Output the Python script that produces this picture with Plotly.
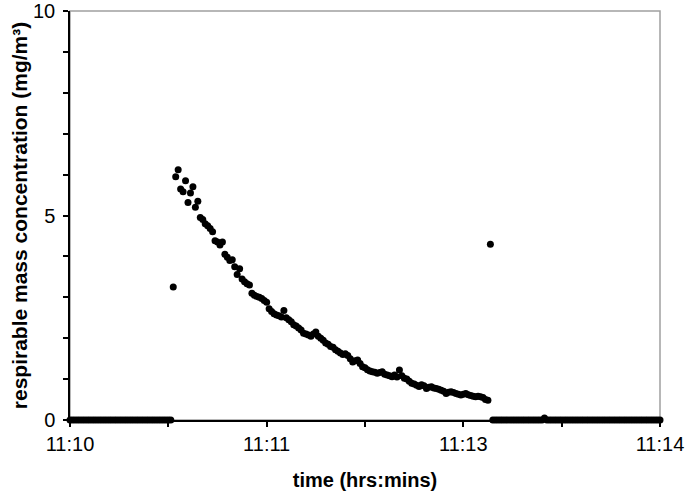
import plotly.graph_objects as go

# seconds after 11:10:00, one reading per second
seconds = list(range(0, 241))

# instrument reads zero until the release
before_release = [0.0] * 42
release_spike = [3.25]
# decay of the cloud, t = 43 .. 170 s
decay = [
    5.95, 6.12, 5.65, 5.58, 5.85, 5.32, 5.55, 5.70, 5.20, 5.35,
    4.95, 4.90, 4.80, 4.75, 4.68, 4.60, 4.38, 4.35, 4.28, 4.35,
    4.05, 3.98, 3.90, 3.92, 3.75, 3.56, 3.70, 3.45, 3.38, 3.33,
    3.30, 3.10, 3.05, 3.02, 3.00, 2.97, 2.92, 2.88, 2.72, 2.65,
    2.60, 2.57, 2.55, 2.52, 2.68, 2.50, 2.45, 2.40, 2.33, 2.30,
    2.25, 2.20, 2.12, 2.10, 2.08, 2.05, 2.10, 2.15, 2.05, 2.00,
    1.95, 1.88, 1.85, 1.80, 1.78, 1.72, 1.68, 1.64, 1.60, 1.62,
    1.58, 1.50, 1.42, 1.45, 1.47, 1.38, 1.30, 1.28, 1.23, 1.20,
    1.18, 1.17, 1.14, 1.16, 1.18, 1.12, 1.10, 1.08, 1.06, 1.10,
    1.05, 1.22, 1.08, 1.02, 1.00, 0.95, 0.90, 0.88, 0.85, 0.82,
    0.86, 0.84, 0.77, 0.80, 0.81, 0.78, 0.77, 0.75, 0.73, 0.70,
    0.65, 0.68, 0.69, 0.67, 0.65, 0.63, 0.61, 0.63, 0.65, 0.62,
    0.60, 0.58, 0.57, 0.58, 0.57, 0.55, 0.50, 0.48,
]
end_spike = [4.30]
after_end = [0.0] * 21 + [0.05] + [0.0] * 47

concentration = before_release + release_spike + decay + end_spike + after_end

# ticks every 40 s, labels on every other tick (as in the source chart)
x_tickvals = [0, 40, 80, 120, 160, 200, 240]
x_ticktext = ["11:10", "", "11:11", "", "11:13", "", "11:14"]
y_tickvals = list(range(0, 11))
y_ticktext = ["0", "", "", "", "", "5", "", "", "", "", "10"]

FONT = "Liberation Sans, Arial, sans-serif"

fig = go.Figure(
    go.Scatter(
        x=seconds,
        y=concentration,
        mode="markers",
        marker=dict(color="black", size=7),
        cliponaxis=False,
        hoverinfo="skip",
    )
)

# grey frame on top/right, axes draw black on left/bottom
fig.add_shape(type="rect", xref="paper", yref="paper", x0=0, x1=1, y0=0, y1=1,
              line=dict(color="#a0a0a0", width=1.5), layer="below")

fig.update_layout(
    width=686,
    height=493,
    margin=dict(l=70, r=26, t=11, b=73),
    paper_bgcolor="white",
    plot_bgcolor="white",
    showlegend=False,
    font=dict(family=FONT, size=20, color="black"),
)
fig.update_xaxes(
    range=[0, 240],
    tickvals=x_tickvals,
    ticktext=x_ticktext,
    ticks="outside",
    ticklen=5,
    tickwidth=1.5,
    tickcolor="black",
    ticklabeloverflow="allow",
    showline=True,
    linecolor="black",
    linewidth=1.5,
    showgrid=False,
    zeroline=False,
    automargin=False,
    title=dict(text="<b>time (hrs:mins)</b>", font=dict(size=20), standoff=19),
)
fig.update_yaxes(
    range=[0, 10],
    tickvals=y_tickvals,
    ticktext=y_ticktext,
    ticks="outside",
    ticklen=5,
    tickwidth=1.5,
    tickcolor="black",
    ticklabelstandoff=4,
    ticklabeloverflow="allow",
    showline=True,
    linecolor="black",
    linewidth=1.5,
    showgrid=False,
    zeroline=False,
    automargin=False,
    title=dict(text="<b>respirable mass concentration (mg/m³)</b>", font=dict(size=21), standoff=0),
)

# drop the browser's default 8px body margin so the figure sits at the page corner
fig.write_html(
    "out.html",
    config={"displayModeBar": False},
    post_script="document.body.style.margin='0';",
)
